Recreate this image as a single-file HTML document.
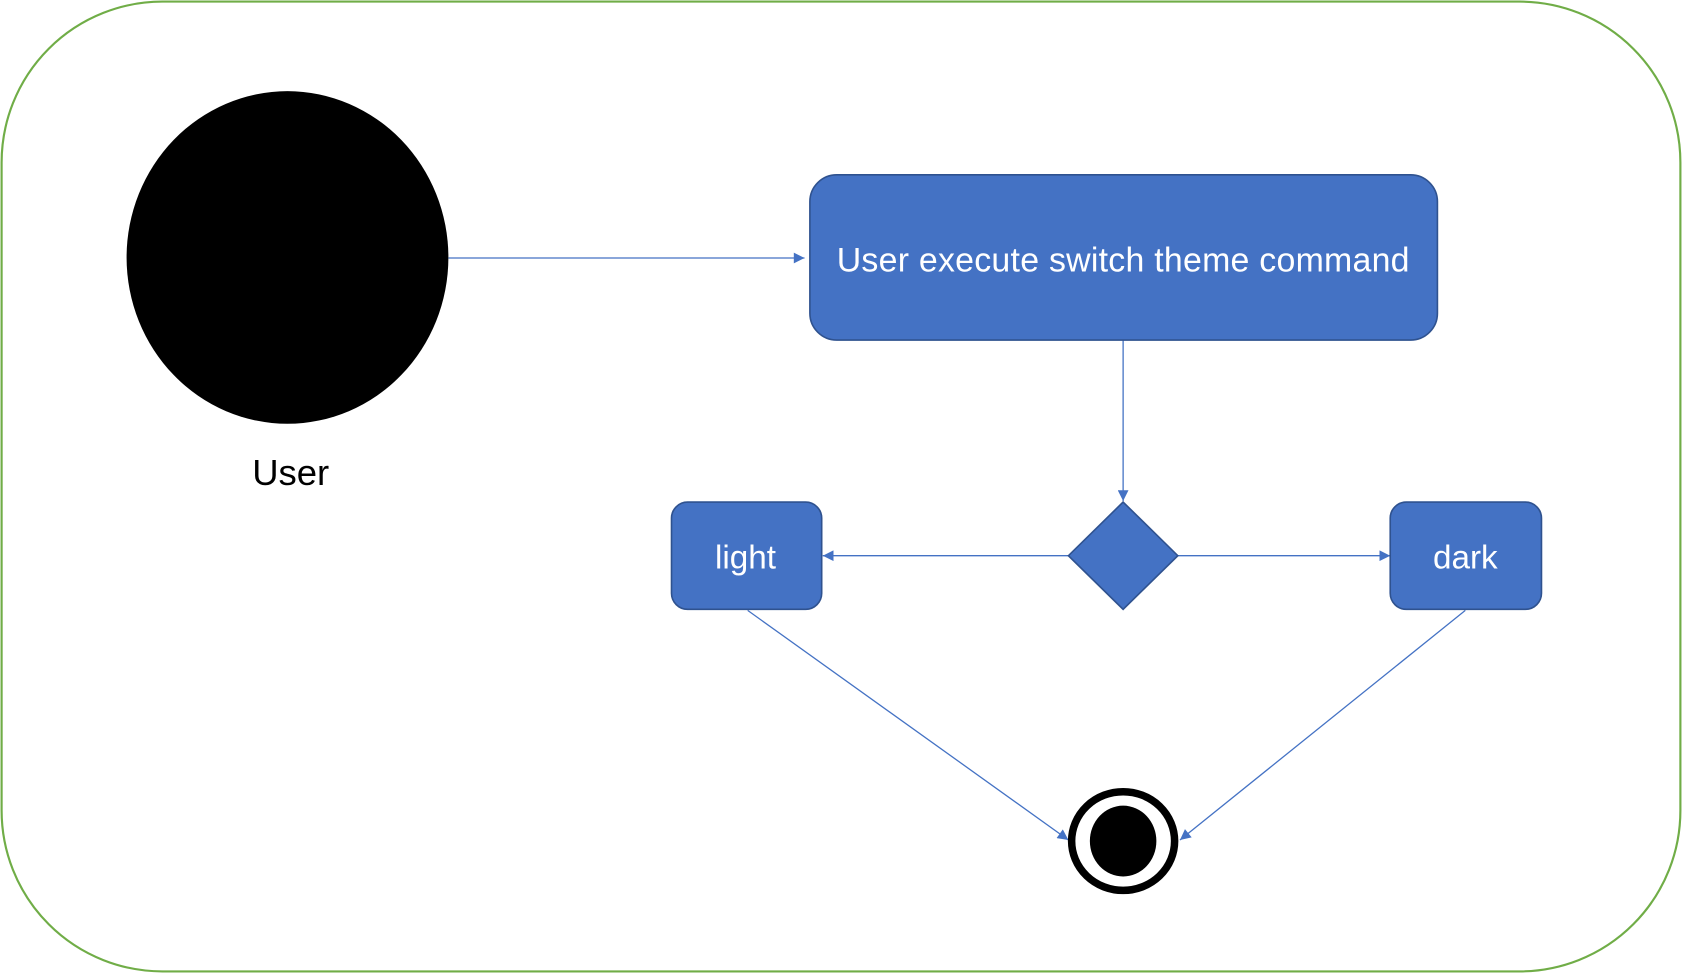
<!DOCTYPE html>
<html><head><meta charset="utf-8"><style>
html,body{margin:0;padding:0;background:#fff;}
svg{display:block;}
</style></head><body>
<svg width="1682" height="973" viewBox="0 0 1568 907" preserveAspectRatio="none" xmlns="http://www.w3.org/2000/svg">
<defs>
<marker id="b" viewBox="0 0 10 10" refX="10" refY="5" markerWidth="11" markerHeight="10" orient="auto" markerUnits="userSpaceOnUse">
<path d="M0,0 L10,5 L0,10 z" fill="#4472c4"/>
</marker>
</defs>
<rect x="1.5" y="1.5" width="1565" height="904" rx="150" ry="150" fill="#fff" stroke="#70ad47" stroke-width="2"/>
<ellipse cx="268" cy="240" rx="150" ry="155" fill="#000"/>
<text x="271" y="452" font-family="Liberation Sans, sans-serif" font-size="34" text-anchor="middle" fill="#000">User</text>
<g stroke="#4472c4" stroke-width="1.2" fill="none">
<line x1="418" y1="240.5" x2="750" y2="240.5" marker-end="url(#b)"/>
<line x1="1047" y1="317" x2="1047" y2="467" marker-end="url(#b)"/>
<line x1="996" y1="518" x2="767" y2="518" marker-end="url(#b)"/>
<line x1="1098" y1="518" x2="1296" y2="518" marker-end="url(#b)"/>
<line x1="697" y1="569" x2="996" y2="783" marker-end="url(#b)"/>
<line x1="1366" y1="569" x2="1100" y2="783" marker-end="url(#b)"/>
</g>
<rect x="755" y="163" width="585" height="154" rx="25" fill="#4472c4" stroke="#2f528f" stroke-width="1.5"/>
<text x="1047" y="253" font-family="Liberation Sans, sans-serif" font-size="31.6" text-anchor="middle" fill="#fff" textLength="534" lengthAdjust="spacing">User execute switch theme command</text>
<path d="M1047,468 L1098,518 L1047,568 L996,518 z" fill="#4472c4" stroke="#2f528f" stroke-width="1.5"/>
<rect x="626" y="468" width="140" height="100" rx="15" fill="#4472c4" stroke="#2f528f" stroke-width="1.5"/>
<text x="695" y="530" font-family="Liberation Sans, sans-serif" font-size="31" text-anchor="middle" fill="#fff">light</text>
<rect x="1296" y="468" width="141" height="100" rx="15" fill="#4472c4" stroke="#2f528f" stroke-width="1.5"/>
<text x="1366" y="530" font-family="Liberation Sans, sans-serif" font-size="31" text-anchor="middle" fill="#fff">dark</text>
<ellipse cx="1047" cy="784" rx="48" ry="46" fill="#fff" stroke="#000" stroke-width="7"/>
<ellipse cx="1047" cy="784" rx="31" ry="33" fill="#000"/>
</svg>
</body></html>
